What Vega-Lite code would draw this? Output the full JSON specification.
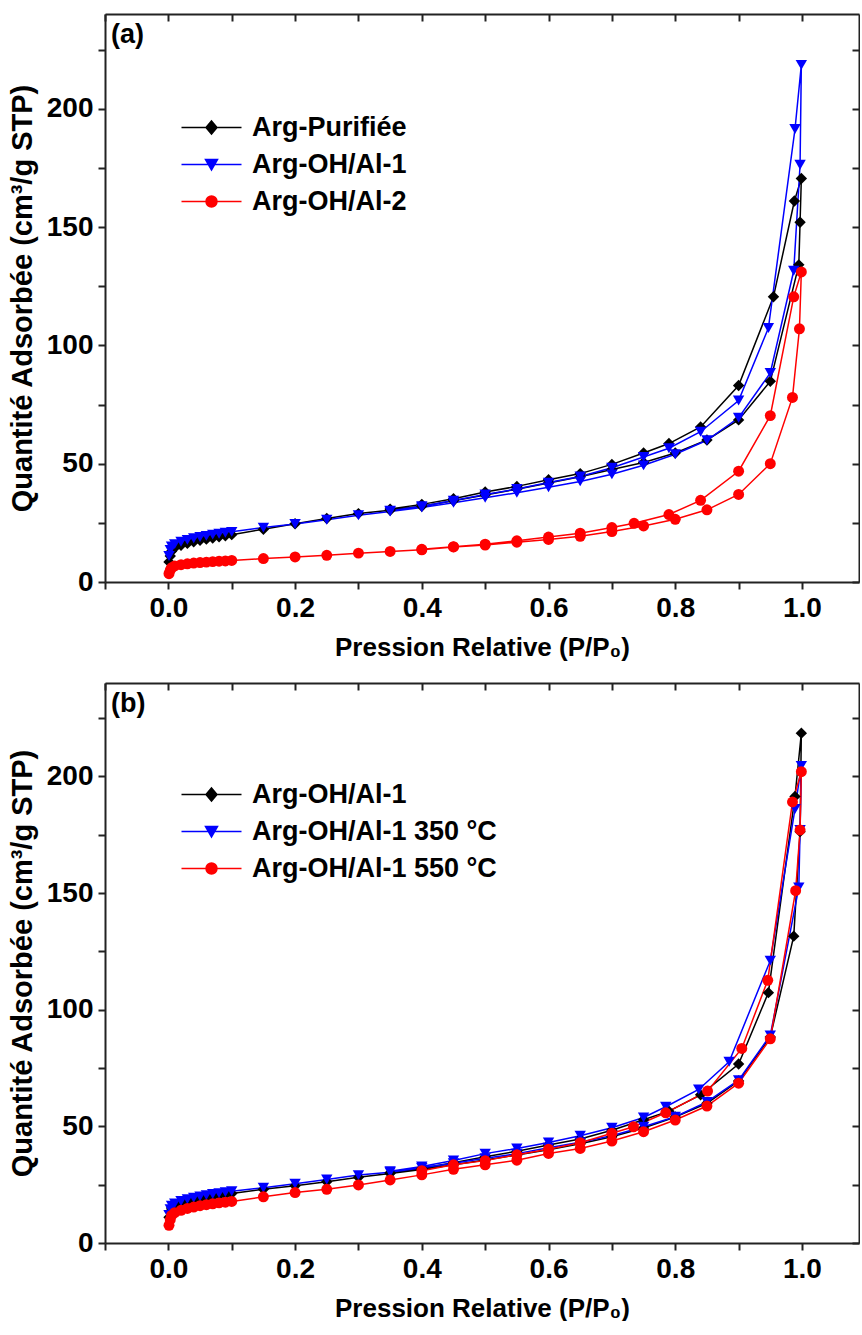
{
"$schema": "https://vega.github.io/schema/vega-lite/v6.json",
"background": "white",
"padding": {"left": 8, "top": 13, "right": 0, "bottom": 0},
"config": {
 "font": "Liberation Sans",
 "view": {"stroke": null},
 "axis": {"labelFont": "Liberation Sans", "labelFontWeight": "bold", "labelFontSize": 28, "labelColor": "black", "titleFont": "Liberation Sans", "titleFontWeight": "bold", "titleFontSize": 26, "titleColor": "black", "domainColor": "#222222", "domainWidth": 2, "tickColor": "#222222", "tickWidth": 2, "grid": false, "labelOverlap": false, "labelFlush": false},
 "axisLeft": {"titleFontSize": 29},
 "legend": {"title": null, "labelFont": "Liberation Sans", "labelFontWeight": "bold", "labelFontSize": 27, "labelColor": "black", "labelLimit": 500, "symbolSize": 100, "symbolStrokeWidth": 1.5, "symbolOpacity": 1, "labelOffset": 27, "rowPadding": 9, "padding": 0}
},
"resolve": {"scale": {"color": "independent", "shape": "independent"}, "legend": {"color": "independent", "shape": "independent"}},
"spacing": 22,
"datasets": {
 "a": [
  {"s":"Arg-Purifiée","i":0,"p":0.001,"q":8.5},{"s":"Arg-Purifiée","i":1,"p":0.003,"q":11},{"s":"Arg-Purifiée","i":2,"p":0.005,"q":13},{"s":"Arg-Purifiée","i":3,"p":0.01,"q":14.5},{"s":"Arg-Purifiée","i":4,"p":0.02,"q":15.5},{"s":"Arg-Purifiée","i":5,"p":0.03,"q":16.3},{"s":"Arg-Purifiée","i":6,"p":0.04,"q":17},{"s":"Arg-Purifiée","i":7,"p":0.05,"q":17.6},{"s":"Arg-Purifiée","i":8,"p":0.06,"q":18.1},{"s":"Arg-Purifiée","i":9,"p":0.07,"q":18.6},{"s":"Arg-Purifiée","i":10,"p":0.08,"q":19.1},{"s":"Arg-Purifiée","i":11,"p":0.09,"q":19.5},{"s":"Arg-Purifiée","i":12,"p":0.1,"q":20},{"s":"Arg-Purifiée","i":13,"p":0.15,"q":22.3},{"s":"Arg-Purifiée","i":14,"p":0.2,"q":24.6},{"s":"Arg-Purifiée","i":15,"p":0.25,"q":26.8},{"s":"Arg-Purifiée","i":16,"p":0.3,"q":28.9},
  {"s":"Arg-Purifiée","i":17,"p":0.35,"q":30.3},{"s":"Arg-Purifiée","i":18,"p":0.4,"q":32},{"s":"Arg-Purifiée","i":19,"p":0.45,"q":34.3},{"s":"Arg-Purifiée","i":20,"p":0.5,"q":36.8},{"s":"Arg-Purifiée","i":21,"p":0.55,"q":39.2},{"s":"Arg-Purifiée","i":22,"p":0.6,"q":41.8},{"s":"Arg-Purifiée","i":23,"p":0.65,"q":44.5},{"s":"Arg-Purifiée","i":24,"p":0.7,"q":47.5},{"s":"Arg-Purifiée","i":25,"p":0.75,"q":50.5},{"s":"Arg-Purifiée","i":26,"p":0.8,"q":54.5},{"s":"Arg-Purifiée","i":27,"p":0.85,"q":60},{"s":"Arg-Purifiée","i":28,"p":0.9,"q":68.5},{"s":"Arg-Purifiée","i":29,"p":0.95,"q":84.8},{"s":"Arg-Purifiée","i":30,"p":0.995,"q":134},{"s":"Arg-Purifiée","i":31,"p":0.997,"q":152},{"s":"Arg-Purifiée","i":32,"p":0.999,"q":170.5},
  {"s":"Arg-Purifiée","i":33,"p":0.988,"q":161},{"s":"Arg-Purifiée","i":34,"p":0.955,"q":120.5},{"s":"Arg-Purifiée","i":35,"p":0.9,"q":83},{"s":"Arg-Purifiée","i":36,"p":0.84,"q":65.5},{"s":"Arg-Purifiée","i":37,"p":0.79,"q":58.5},{"s":"Arg-Purifiée","i":38,"p":0.75,"q":54.5},{"s":"Arg-Purifiée","i":39,"p":0.7,"q":49.7},{"s":"Arg-Purifiée","i":40,"p":0.65,"q":45.8},{"s":"Arg-Purifiée","i":41,"p":0.6,"q":43.2},{"s":"Arg-Purifiée","i":42,"p":0.55,"q":40.4},{"s":"Arg-Purifiée","i":43,"p":0.5,"q":38},{"s":"Arg-Purifiée","i":44,"p":0.45,"q":35.2},{"s":"Arg-Purifiée","i":45,"p":0.4,"q":32.8},{"s":"Arg-Purifiée","i":46,"p":0.35,"q":30.8},

  {"s":"Arg-OH/Al-1","i":0,"p":0.001,"q":11},{"s":"Arg-OH/Al-1","i":1,"p":0.003,"q":13.5},{"s":"Arg-OH/Al-1","i":2,"p":0.005,"q":15},{"s":"Arg-OH/Al-1","i":3,"p":0.01,"q":16},{"s":"Arg-OH/Al-1","i":4,"p":0.02,"q":17},{"s":"Arg-OH/Al-1","i":5,"p":0.03,"q":17.8},{"s":"Arg-OH/Al-1","i":6,"p":0.04,"q":18.5},{"s":"Arg-OH/Al-1","i":7,"p":0.05,"q":19},{"s":"Arg-OH/Al-1","i":8,"p":0.06,"q":19.5},{"s":"Arg-OH/Al-1","i":9,"p":0.07,"q":20},{"s":"Arg-OH/Al-1","i":10,"p":0.08,"q":20.4},{"s":"Arg-OH/Al-1","i":11,"p":0.09,"q":20.8},{"s":"Arg-OH/Al-1","i":12,"p":0.1,"q":21.2},{"s":"Arg-OH/Al-1","i":13,"p":0.15,"q":23},{"s":"Arg-OH/Al-1","i":14,"p":0.2,"q":24.5},{"s":"Arg-OH/Al-1","i":15,"p":0.25,"q":26.3},{"s":"Arg-OH/Al-1","i":16,"p":0.3,"q":28.2},
  {"s":"Arg-OH/Al-1","i":17,"p":0.35,"q":29.8},{"s":"Arg-OH/Al-1","i":18,"p":0.4,"q":31.5},{"s":"Arg-OH/Al-1","i":19,"p":0.45,"q":33.5},{"s":"Arg-OH/Al-1","i":20,"p":0.5,"q":35.6},{"s":"Arg-OH/Al-1","i":21,"p":0.55,"q":37.7},{"s":"Arg-OH/Al-1","i":22,"p":0.6,"q":40},{"s":"Arg-OH/Al-1","i":23,"p":0.65,"q":42.5},{"s":"Arg-OH/Al-1","i":24,"p":0.7,"q":45.5},{"s":"Arg-OH/Al-1","i":25,"p":0.75,"q":49.3},{"s":"Arg-OH/Al-1","i":26,"p":0.8,"q":54},{"s":"Arg-OH/Al-1","i":27,"p":0.85,"q":59.9},{"s":"Arg-OH/Al-1","i":28,"p":0.9,"q":69.4},{"s":"Arg-OH/Al-1","i":29,"p":0.95,"q":88.3},{"s":"Arg-OH/Al-1","i":30,"p":0.987,"q":131.5},{"s":"Arg-OH/Al-1","i":31,"p":0.997,"q":176.3},{"s":"Arg-OH/Al-1","i":32,"p":0.999,"q":218.5},
  {"s":"Arg-OH/Al-1","i":33,"p":0.989,"q":191.4},{"s":"Arg-OH/Al-1","i":34,"p":0.947,"q":107.3},{"s":"Arg-OH/Al-1","i":35,"p":0.9,"q":76.7},{"s":"Arg-OH/Al-1","i":36,"p":0.84,"q":63.5},{"s":"Arg-OH/Al-1","i":37,"p":0.79,"q":56.5},{"s":"Arg-OH/Al-1","i":38,"p":0.75,"q":52.8},{"s":"Arg-OH/Al-1","i":39,"p":0.7,"q":48.3},{"s":"Arg-OH/Al-1","i":40,"p":0.65,"q":44.6},{"s":"Arg-OH/Al-1","i":41,"p":0.6,"q":42},{"s":"Arg-OH/Al-1","i":42,"p":0.55,"q":39.3},{"s":"Arg-OH/Al-1","i":43,"p":0.5,"q":37},{"s":"Arg-OH/Al-1","i":44,"p":0.45,"q":34.4},{"s":"Arg-OH/Al-1","i":45,"p":0.4,"q":32},{"s":"Arg-OH/Al-1","i":46,"p":0.35,"q":30.1},

  {"s":"Arg-OH/Al-2","i":0,"p":0.001,"q":3.5},{"s":"Arg-OH/Al-2","i":1,"p":0.003,"q":5},{"s":"Arg-OH/Al-2","i":2,"p":0.005,"q":6},{"s":"Arg-OH/Al-2","i":3,"p":0.01,"q":6.8},{"s":"Arg-OH/Al-2","i":4,"p":0.02,"q":7.3},{"s":"Arg-OH/Al-2","i":5,"p":0.03,"q":7.7},{"s":"Arg-OH/Al-2","i":6,"p":0.04,"q":8},{"s":"Arg-OH/Al-2","i":7,"p":0.05,"q":8.2},{"s":"Arg-OH/Al-2","i":8,"p":0.06,"q":8.4},{"s":"Arg-OH/Al-2","i":9,"p":0.07,"q":8.6},{"s":"Arg-OH/Al-2","i":10,"p":0.08,"q":8.8},{"s":"Arg-OH/Al-2","i":11,"p":0.09,"q":8.9},{"s":"Arg-OH/Al-2","i":12,"p":0.1,"q":9.1},{"s":"Arg-OH/Al-2","i":13,"p":0.15,"q":9.9},{"s":"Arg-OH/Al-2","i":14,"p":0.2,"q":10.6},{"s":"Arg-OH/Al-2","i":15,"p":0.25,"q":11.3},{"s":"Arg-OH/Al-2","i":16,"p":0.3,"q":12.2},{"s":"Arg-OH/Al-2","i":17,"p":0.35,"q":12.9},
  {"s":"Arg-OH/Al-2","i":18,"p":0.4,"q":13.6},{"s":"Arg-OH/Al-2","i":19,"p":0.45,"q":14.8},{"s":"Arg-OH/Al-2","i":20,"p":0.5,"q":15.6},{"s":"Arg-OH/Al-2","i":21,"p":0.55,"q":16.8},{"s":"Arg-OH/Al-2","i":22,"p":0.6,"q":18},{"s":"Arg-OH/Al-2","i":23,"p":0.65,"q":19.3},{"s":"Arg-OH/Al-2","i":24,"p":0.7,"q":21.3},{"s":"Arg-OH/Al-2","i":25,"p":0.75,"q":23.7},{"s":"Arg-OH/Al-2","i":26,"p":0.8,"q":26.5},{"s":"Arg-OH/Al-2","i":27,"p":0.85,"q":30.5},{"s":"Arg-OH/Al-2","i":28,"p":0.9,"q":37},{"s":"Arg-OH/Al-2","i":29,"p":0.95,"q":50},{"s":"Arg-OH/Al-2","i":30,"p":0.985,"q":78},{"s":"Arg-OH/Al-2","i":31,"p":0.996,"q":107},{"s":"Arg-OH/Al-2","i":32,"p":0.999,"q":131},
  {"s":"Arg-OH/Al-2","i":33,"p":0.987,"q":120.5},{"s":"Arg-OH/Al-2","i":34,"p":0.95,"q":70.3},{"s":"Arg-OH/Al-2","i":35,"p":0.9,"q":46.8},{"s":"Arg-OH/Al-2","i":36,"p":0.84,"q":34.5},{"s":"Arg-OH/Al-2","i":37,"p":0.79,"q":28.5},{"s":"Arg-OH/Al-2","i":38,"p":0.735,"q":24.8},{"s":"Arg-OH/Al-2","i":39,"p":0.7,"q":23},{"s":"Arg-OH/Al-2","i":40,"p":0.65,"q":20.6},{"s":"Arg-OH/Al-2","i":41,"p":0.6,"q":19},{"s":"Arg-OH/Al-2","i":42,"p":0.55,"q":17.4},{"s":"Arg-OH/Al-2","i":43,"p":0.5,"q":16},{"s":"Arg-OH/Al-2","i":44,"p":0.45,"q":14.9},{"s":"Arg-OH/Al-2","i":45,"p":0.4,"q":13.8}
 ],
 "b": [
  {"s":"Arg-OH/Al-1","i":0,"p":0.001,"q":11},{"s":"Arg-OH/Al-1","i":1,"p":0.003,"q":13.5},{"s":"Arg-OH/Al-1","i":2,"p":0.005,"q":15},{"s":"Arg-OH/Al-1","i":3,"p":0.01,"q":16},{"s":"Arg-OH/Al-1","i":4,"p":0.02,"q":17},{"s":"Arg-OH/Al-1","i":5,"p":0.03,"q":17.8},{"s":"Arg-OH/Al-1","i":6,"p":0.04,"q":18.5},{"s":"Arg-OH/Al-1","i":7,"p":0.05,"q":19},{"s":"Arg-OH/Al-1","i":8,"p":0.06,"q":19.5},{"s":"Arg-OH/Al-1","i":9,"p":0.07,"q":20},{"s":"Arg-OH/Al-1","i":10,"p":0.08,"q":20.4},{"s":"Arg-OH/Al-1","i":11,"p":0.09,"q":20.8},{"s":"Arg-OH/Al-1","i":12,"p":0.1,"q":21.2},{"s":"Arg-OH/Al-1","i":13,"p":0.15,"q":23},{"s":"Arg-OH/Al-1","i":14,"p":0.2,"q":24.5},{"s":"Arg-OH/Al-1","i":15,"p":0.25,"q":26.3},{"s":"Arg-OH/Al-1","i":16,"p":0.3,"q":28.2},
  {"s":"Arg-OH/Al-1","i":17,"p":0.35,"q":29.8},{"s":"Arg-OH/Al-1","i":18,"p":0.4,"q":31.5},{"s":"Arg-OH/Al-1","i":19,"p":0.45,"q":33.5},{"s":"Arg-OH/Al-1","i":20,"p":0.5,"q":35.6},{"s":"Arg-OH/Al-1","i":21,"p":0.55,"q":37.7},{"s":"Arg-OH/Al-1","i":22,"p":0.6,"q":40},{"s":"Arg-OH/Al-1","i":23,"p":0.65,"q":42.5},{"s":"Arg-OH/Al-1","i":24,"p":0.7,"q":45.5},{"s":"Arg-OH/Al-1","i":25,"p":0.75,"q":49.3},{"s":"Arg-OH/Al-1","i":26,"p":0.8,"q":54},{"s":"Arg-OH/Al-1","i":27,"p":0.85,"q":59.9},{"s":"Arg-OH/Al-1","i":28,"p":0.9,"q":69.4},{"s":"Arg-OH/Al-1","i":29,"p":0.95,"q":88.3},{"s":"Arg-OH/Al-1","i":30,"p":0.987,"q":131.5},{"s":"Arg-OH/Al-1","i":31,"p":0.997,"q":176.3},{"s":"Arg-OH/Al-1","i":32,"p":0.999,"q":218.5},
  {"s":"Arg-OH/Al-1","i":33,"p":0.989,"q":191.4},{"s":"Arg-OH/Al-1","i":34,"p":0.947,"q":107.3},{"s":"Arg-OH/Al-1","i":35,"p":0.9,"q":76.7},{"s":"Arg-OH/Al-1","i":36,"p":0.84,"q":63.5},{"s":"Arg-OH/Al-1","i":37,"p":0.79,"q":56.5},{"s":"Arg-OH/Al-1","i":38,"p":0.75,"q":52.8},{"s":"Arg-OH/Al-1","i":39,"p":0.7,"q":48.3},{"s":"Arg-OH/Al-1","i":40,"p":0.65,"q":44.6},{"s":"Arg-OH/Al-1","i":41,"p":0.6,"q":42},{"s":"Arg-OH/Al-1","i":42,"p":0.55,"q":39.3},{"s":"Arg-OH/Al-1","i":43,"p":0.5,"q":37},{"s":"Arg-OH/Al-1","i":44,"p":0.45,"q":34.4},{"s":"Arg-OH/Al-1","i":45,"p":0.4,"q":32},{"s":"Arg-OH/Al-1","i":46,"p":0.35,"q":30.1},

  {"s":"Arg-OH/Al-1 350 °C","i":0,"p":0.001,"q":12},{"s":"Arg-OH/Al-1 350 °C","i":1,"p":0.003,"q":14.5},{"s":"Arg-OH/Al-1 350 °C","i":2,"p":0.005,"q":16},{"s":"Arg-OH/Al-1 350 °C","i":3,"p":0.01,"q":17},{"s":"Arg-OH/Al-1 350 °C","i":4,"p":0.02,"q":18},{"s":"Arg-OH/Al-1 350 °C","i":5,"p":0.03,"q":18.8},{"s":"Arg-OH/Al-1 350 °C","i":6,"p":0.04,"q":19.4},{"s":"Arg-OH/Al-1 350 °C","i":7,"p":0.05,"q":20},{"s":"Arg-OH/Al-1 350 °C","i":8,"p":0.06,"q":20.5},{"s":"Arg-OH/Al-1 350 °C","i":9,"p":0.07,"q":21},{"s":"Arg-OH/Al-1 350 °C","i":10,"p":0.08,"q":21.4},{"s":"Arg-OH/Al-1 350 °C","i":11,"p":0.09,"q":21.8},{"s":"Arg-OH/Al-1 350 °C","i":12,"p":0.1,"q":22.2},{"s":"Arg-OH/Al-1 350 °C","i":13,"p":0.15,"q":23.7},{"s":"Arg-OH/Al-1 350 °C","i":14,"p":0.2,"q":25.4},{"s":"Arg-OH/Al-1 350 °C","i":15,"p":0.25,"q":27.2},{"s":"Arg-OH/Al-1 350 °C","i":16,"p":0.3,"q":29.1},
  {"s":"Arg-OH/Al-1 350 °C","i":17,"p":0.35,"q":30.3},{"s":"Arg-OH/Al-1 350 °C","i":18,"p":0.4,"q":32.2},{"s":"Arg-OH/Al-1 350 °C","i":19,"p":0.45,"q":34.2},{"s":"Arg-OH/Al-1 350 °C","i":20,"p":0.5,"q":36.3},{"s":"Arg-OH/Al-1 350 °C","i":21,"p":0.55,"q":38.3},{"s":"Arg-OH/Al-1 350 °C","i":22,"p":0.6,"q":40.8},{"s":"Arg-OH/Al-1 350 °C","i":23,"p":0.65,"q":43.2},{"s":"Arg-OH/Al-1 350 °C","i":24,"p":0.7,"q":46},{"s":"Arg-OH/Al-1 350 °C","i":25,"p":0.75,"q":49.8},{"s":"Arg-OH/Al-1 350 °C","i":26,"p":0.8,"q":54.1},{"s":"Arg-OH/Al-1 350 °C","i":27,"p":0.85,"q":60.5},{"s":"Arg-OH/Al-1 350 °C","i":28,"p":0.9,"q":69.8},{"s":"Arg-OH/Al-1 350 °C","i":29,"p":0.95,"q":89},{"s":"Arg-OH/Al-1 350 °C","i":30,"p":0.995,"q":152.4},{"s":"Arg-OH/Al-1 350 °C","i":31,"p":0.997,"q":177},{"s":"Arg-OH/Al-1 350 °C","i":32,"p":0.999,"q":204.5},
  {"s":"Arg-OH/Al-1 350 °C","i":33,"p":0.989,"q":186},{"s":"Arg-OH/Al-1 350 °C","i":34,"p":0.95,"q":121},{"s":"Arg-OH/Al-1 350 °C","i":35,"p":0.885,"q":77.7},{"s":"Arg-OH/Al-1 350 °C","i":36,"p":0.837,"q":65.8},{"s":"Arg-OH/Al-1 350 °C","i":37,"p":0.785,"q":58.4},{"s":"Arg-OH/Al-1 350 °C","i":38,"p":0.75,"q":53.8},{"s":"Arg-OH/Al-1 350 °C","i":39,"p":0.7,"q":49.4},{"s":"Arg-OH/Al-1 350 °C","i":40,"p":0.65,"q":46},{"s":"Arg-OH/Al-1 350 °C","i":41,"p":0.6,"q":43.1},{"s":"Arg-OH/Al-1 350 °C","i":42,"p":0.55,"q":40.5},{"s":"Arg-OH/Al-1 350 °C","i":43,"p":0.5,"q":38.3},{"s":"Arg-OH/Al-1 350 °C","i":44,"p":0.45,"q":35.4},{"s":"Arg-OH/Al-1 350 °C","i":45,"p":0.4,"q":32.8},{"s":"Arg-OH/Al-1 350 °C","i":46,"p":0.35,"q":30.8},

  {"s":"Arg-OH/Al-1 550 °C","i":0,"p":0.001,"q":7.6},{"s":"Arg-OH/Al-1 550 °C","i":1,"p":0.003,"q":10},{"s":"Arg-OH/Al-1 550 °C","i":2,"p":0.005,"q":11.8},{"s":"Arg-OH/Al-1 550 °C","i":3,"p":0.01,"q":13},{"s":"Arg-OH/Al-1 550 °C","i":4,"p":0.02,"q":14},{"s":"Arg-OH/Al-1 550 °C","i":5,"p":0.03,"q":14.8},{"s":"Arg-OH/Al-1 550 °C","i":6,"p":0.04,"q":15.4},{"s":"Arg-OH/Al-1 550 °C","i":7,"p":0.05,"q":16},{"s":"Arg-OH/Al-1 550 °C","i":8,"p":0.06,"q":16.4},{"s":"Arg-OH/Al-1 550 °C","i":9,"p":0.07,"q":16.8},{"s":"Arg-OH/Al-1 550 °C","i":10,"p":0.08,"q":17.2},{"s":"Arg-OH/Al-1 550 °C","i":11,"p":0.09,"q":17.5},{"s":"Arg-OH/Al-1 550 °C","i":12,"p":0.1,"q":17.8},{"s":"Arg-OH/Al-1 550 °C","i":13,"p":0.15,"q":19.8},{"s":"Arg-OH/Al-1 550 °C","i":14,"p":0.2,"q":21.6},{"s":"Arg-OH/Al-1 550 °C","i":15,"p":0.25,"q":23},{"s":"Arg-OH/Al-1 550 °C","i":16,"p":0.3,"q":24.9},{"s":"Arg-OH/Al-1 550 °C","i":17,"p":0.35,"q":27},
  {"s":"Arg-OH/Al-1 550 °C","i":18,"p":0.4,"q":29.2},{"s":"Arg-OH/Al-1 550 °C","i":19,"p":0.45,"q":31.6},{"s":"Arg-OH/Al-1 550 °C","i":20,"p":0.5,"q":33.5},{"s":"Arg-OH/Al-1 550 °C","i":21,"p":0.55,"q":35.5},{"s":"Arg-OH/Al-1 550 °C","i":22,"p":0.6,"q":38.4},{"s":"Arg-OH/Al-1 550 °C","i":23,"p":0.65,"q":40.5},{"s":"Arg-OH/Al-1 550 °C","i":24,"p":0.7,"q":43.7},{"s":"Arg-OH/Al-1 550 °C","i":25,"p":0.75,"q":47.7},{"s":"Arg-OH/Al-1 550 °C","i":26,"p":0.8,"q":52.7},{"s":"Arg-OH/Al-1 550 °C","i":27,"p":0.85,"q":58.7},{"s":"Arg-OH/Al-1 550 °C","i":28,"p":0.9,"q":68.5},{"s":"Arg-OH/Al-1 550 °C","i":29,"p":0.95,"q":87.5},{"s":"Arg-OH/Al-1 550 °C","i":30,"p":0.99,"q":151},{"s":"Arg-OH/Al-1 550 °C","i":31,"p":0.997,"q":177},{"s":"Arg-OH/Al-1 550 °C","i":32,"p":0.999,"q":202},
  {"s":"Arg-OH/Al-1 550 °C","i":33,"p":0.985,"q":189},{"s":"Arg-OH/Al-1 550 °C","i":34,"p":0.946,"q":112.6},{"s":"Arg-OH/Al-1 550 °C","i":35,"p":0.905,"q":83.4},{"s":"Arg-OH/Al-1 550 °C","i":36,"p":0.851,"q":65.1},{"s":"Arg-OH/Al-1 550 °C","i":37,"p":0.785,"q":55.8},{"s":"Arg-OH/Al-1 550 °C","i":38,"p":0.734,"q":49.8},{"s":"Arg-OH/Al-1 550 °C","i":39,"p":0.7,"q":47},{"s":"Arg-OH/Al-1 550 °C","i":40,"p":0.65,"q":43},{"s":"Arg-OH/Al-1 550 °C","i":41,"p":0.6,"q":40.2},{"s":"Arg-OH/Al-1 550 °C","i":42,"p":0.55,"q":37.8},{"s":"Arg-OH/Al-1 550 °C","i":43,"p":0.5,"q":35.3},{"s":"Arg-OH/Al-1 550 °C","i":44,"p":0.45,"q":33.5},{"s":"Arg-OH/Al-1 550 °C","i":45,"p":0.4,"q":31}
 ]
},
"vconcat": [
 {
  "width": 754, "height": 568,
  "title": {"text": "(a)", "anchor": "start", "frame": "group", "offset": -36, "dx": 6, "fontSize": 27, "fontWeight": "bold", "font": "Liberation Sans", "color": "black"},
  "data": {"name": "a"},
  "layer": [
   {"mark": {"type": "line", "strokeWidth": 1.5},
    "encoding": {
     "x": {"field": "p", "type": "quantitative", "scale": {"domain": [-0.1, 1.09], "nice": false, "zero": false},
      "axis": {"orient": "bottom", "values": [-0.1,0,0.1,0.2,0.3,0.4,0.5,0.6,0.7,0.8,0.9,1.0], "labelExpr": "(round(datum.value*10) % 2 === 0 && datum.value > -0.05) ? format(datum.value, '.1f') : ''", "title": "Pression Relative (P/P₀)", "tickSize": 7, "labelPadding": 5, "titlePadding": 12}},
     "y": {"field": "q", "type": "quantitative", "scale": {"domain": [0, 240], "nice": false},
      "axis": {"orient": "left", "values": [0,25,50,75,100,125,150,175,200,225], "labelExpr": "datum.value % 50 === 0 ? datum.label : ''", "title": "Quantité Adsorbée (cm³/g STP)", "tickSize": 7, "labelPadding": 5, "titlePadding": 9}},
     "color": {"field": "s", "type": "nominal", "scale": {"domain": ["Arg-Purifiée", "Arg-OH/Al-1", "Arg-OH/Al-2"], "range": ["#000000", "#0000ff", "#ff0000"]}, "legend": {"orient": "none", "legendX": 93, "legendY": 100}},
     "order": {"field": "i", "type": "quantitative"}
    }},
   {"transform": [{"filter": "datum.s === 'Arg-Purifiée'"}],
    "mark": {"type": "point", "shape": "diamond", "filled": true, "size": 130, "opacity": 1},
    "encoding": {
     "x": {"field": "p", "type": "quantitative", "scale": {"domain": [-0.1, 1.09], "nice": false, "zero": false}, "axis": null},
     "y": {"field": "q", "type": "quantitative", "scale": {"domain": [0, 240], "nice": false}, "axis": null},
     "color": {"field": "s", "type": "nominal", "scale": {"domain": ["Arg-Purifiée", "Arg-OH/Al-1", "Arg-OH/Al-2"], "range": ["#000000", "#0000ff", "#ff0000"]}}
    }},
   {"transform": [{"filter": "datum.s === 'Arg-OH/Al-1'"}],
    "mark": {"type": "point", "shape": "triangle-down", "filled": true, "size": 130, "opacity": 1},
    "encoding": {
     "x": {"field": "p", "type": "quantitative", "scale": {"domain": [-0.1, 1.09], "nice": false, "zero": false}, "axis": null},
     "y": {"field": "q", "type": "quantitative", "scale": {"domain": [0, 240], "nice": false}, "axis": null},
     "color": {"field": "s", "type": "nominal", "scale": {"domain": ["Arg-Purifiée", "Arg-OH/Al-1", "Arg-OH/Al-2"], "range": ["#000000", "#0000ff", "#ff0000"]}}
    }},
   {"transform": [{"filter": "datum.s === 'Arg-OH/Al-2'"}],
    "mark": {"type": "point", "shape": "circle", "filled": true, "size": 120, "opacity": 1},
    "encoding": {
     "x": {"field": "p", "type": "quantitative", "scale": {"domain": [-0.1, 1.09], "nice": false, "zero": false}, "axis": null},
     "y": {"field": "q", "type": "quantitative", "scale": {"domain": [0, 240], "nice": false}, "axis": null},
     "color": {"field": "s", "type": "nominal", "scale": {"domain": ["Arg-Purifiée", "Arg-OH/Al-1", "Arg-OH/Al-2"], "range": ["#000000", "#0000ff", "#ff0000"]}}
    }},
   {"mark": {"type": "point", "filled": true, "opacity": 0},
    "encoding": {
     "x": {"field": "p", "type": "quantitative", "scale": {"domain": [-0.1, 1.09], "nice": false, "zero": false},
      "axis": {"orient": "top", "values": [-0.1,0,0.1,0.2,0.3,0.4,0.5,0.6,0.7,0.8,0.9,1.0], "labels": false, "title": null, "tickSize": -7}},
     "y": {"field": "q", "type": "quantitative", "scale": {"domain": [0, 240], "nice": false},
      "axis": {"orient": "right", "values": [0,25,50,75,100,125,150,175,200,225], "labels": false, "title": null, "tickSize": -7}},
     "color": {"field": "s", "type": "nominal", "scale": {"domain": ["Arg-Purifiée", "Arg-OH/Al-1", "Arg-OH/Al-2"], "range": ["#000000", "#0000ff", "#ff0000"]}, "legend": {"orient": "none", "legendX": 93, "legendY": 100}},
     "shape": {"field": "s", "type": "nominal", "scale": {"domain": ["Arg-Purifiée", "Arg-OH/Al-1", "Arg-OH/Al-2"], "range": ["M-6,0H6M0,-1.3L1.1,0L0,1.3L-1.1,0Z", "M-6,0H6M-1.2,-1L1.2,-1L0,1.1Z", "M-6,0H6M-1.1,0A1.1,1.1,0,1,0,1.1,0A1.1,1.1,0,1,0,-1.1,0Z"]}, "legend": {"orient": "none", "legendX": 93, "legendY": 100}}
    }}
  ],
  "resolve": {"axis": {"x": "independent", "y": "independent"}}
 },
 {
  "width": 754, "height": 560,
  "title": {"text": "(b)", "anchor": "start", "frame": "group", "offset": -36, "dx": 6, "fontSize": 27, "fontWeight": "bold", "font": "Liberation Sans", "color": "black"},
  "data": {"name": "b"},
  "layer": [
   {"mark": {"type": "line", "strokeWidth": 1.5},
    "encoding": {
     "x": {"field": "p", "type": "quantitative", "scale": {"domain": [-0.1, 1.09], "nice": false, "zero": false},
      "axis": {"orient": "bottom", "values": [-0.1,0,0.1,0.2,0.3,0.4,0.5,0.6,0.7,0.8,0.9,1.0], "labelExpr": "(round(datum.value*10) % 2 === 0 && datum.value > -0.05) ? format(datum.value, '.1f') : ''", "title": "Pression Relative (P/P₀)", "tickSize": 7, "labelPadding": 5, "titlePadding": 12}},
     "y": {"field": "q", "type": "quantitative", "scale": {"domain": [0, 240], "nice": false},
      "axis": {"orient": "left", "values": [0,25,50,75,100,125,150,175,200,225], "labelExpr": "datum.value % 50 === 0 ? datum.label : ''", "title": "Quantité Adsorbée (cm³/g STP)", "tickSize": 7, "labelPadding": 5, "titlePadding": 9}},
     "color": {"field": "s", "type": "nominal", "scale": {"domain": ["Arg-OH/Al-1", "Arg-OH/Al-1 350 °C", "Arg-OH/Al-1 550 °C"], "range": ["#000000", "#0000ff", "#ff0000"]}, "legend": {"orient": "none", "legendX": 93, "legendY": 98}},
     "order": {"field": "i", "type": "quantitative"}
    }},
   {"transform": [{"filter": "datum.s === 'Arg-OH/Al-1'"}],
    "mark": {"type": "point", "shape": "diamond", "filled": true, "size": 130, "opacity": 1},
    "encoding": {
     "x": {"field": "p", "type": "quantitative", "scale": {"domain": [-0.1, 1.09], "nice": false, "zero": false}, "axis": null},
     "y": {"field": "q", "type": "quantitative", "scale": {"domain": [0, 240], "nice": false}, "axis": null},
     "color": {"field": "s", "type": "nominal", "scale": {"domain": ["Arg-OH/Al-1", "Arg-OH/Al-1 350 °C", "Arg-OH/Al-1 550 °C"], "range": ["#000000", "#0000ff", "#ff0000"]}}
    }},
   {"transform": [{"filter": "datum.s === 'Arg-OH/Al-1 350 °C'"}],
    "mark": {"type": "point", "shape": "triangle-down", "filled": true, "size": 130, "opacity": 1},
    "encoding": {
     "x": {"field": "p", "type": "quantitative", "scale": {"domain": [-0.1, 1.09], "nice": false, "zero": false}, "axis": null},
     "y": {"field": "q", "type": "quantitative", "scale": {"domain": [0, 240], "nice": false}, "axis": null},
     "color": {"field": "s", "type": "nominal", "scale": {"domain": ["Arg-OH/Al-1", "Arg-OH/Al-1 350 °C", "Arg-OH/Al-1 550 °C"], "range": ["#000000", "#0000ff", "#ff0000"]}}
    }},
   {"transform": [{"filter": "datum.s === 'Arg-OH/Al-1 550 °C'"}],
    "mark": {"type": "point", "shape": "circle", "filled": true, "size": 120, "opacity": 1},
    "encoding": {
     "x": {"field": "p", "type": "quantitative", "scale": {"domain": [-0.1, 1.09], "nice": false, "zero": false}, "axis": null},
     "y": {"field": "q", "type": "quantitative", "scale": {"domain": [0, 240], "nice": false}, "axis": null},
     "color": {"field": "s", "type": "nominal", "scale": {"domain": ["Arg-OH/Al-1", "Arg-OH/Al-1 350 °C", "Arg-OH/Al-1 550 °C"], "range": ["#000000", "#0000ff", "#ff0000"]}}
    }},
   {"mark": {"type": "point", "filled": true, "opacity": 0},
    "encoding": {
     "x": {"field": "p", "type": "quantitative", "scale": {"domain": [-0.1, 1.09], "nice": false, "zero": false},
      "axis": {"orient": "top", "values": [-0.1,0,0.1,0.2,0.3,0.4,0.5,0.6,0.7,0.8,0.9,1.0], "labels": false, "title": null, "tickSize": -7}},
     "y": {"field": "q", "type": "quantitative", "scale": {"domain": [0, 240], "nice": false},
      "axis": {"orient": "right", "values": [0,25,50,75,100,125,150,175,200,225], "labels": false, "title": null, "tickSize": -7}},
     "color": {"field": "s", "type": "nominal", "scale": {"domain": ["Arg-OH/Al-1", "Arg-OH/Al-1 350 °C", "Arg-OH/Al-1 550 °C"], "range": ["#000000", "#0000ff", "#ff0000"]}, "legend": {"orient": "none", "legendX": 93, "legendY": 98}},
     "shape": {"field": "s", "type": "nominal", "scale": {"domain": ["Arg-OH/Al-1", "Arg-OH/Al-1 350 °C", "Arg-OH/Al-1 550 °C"], "range": ["M-6,0H6M0,-1.3L1.1,0L0,1.3L-1.1,0Z", "M-6,0H6M-1.2,-1L1.2,-1L0,1.1Z", "M-6,0H6M-1.1,0A1.1,1.1,0,1,0,1.1,0A1.1,1.1,0,1,0,-1.1,0Z"]}, "legend": {"orient": "none", "legendX": 93, "legendY": 98}}
    }}
  ],
  "resolve": {"axis": {"x": "independent", "y": "independent"}}
 }
]
}
